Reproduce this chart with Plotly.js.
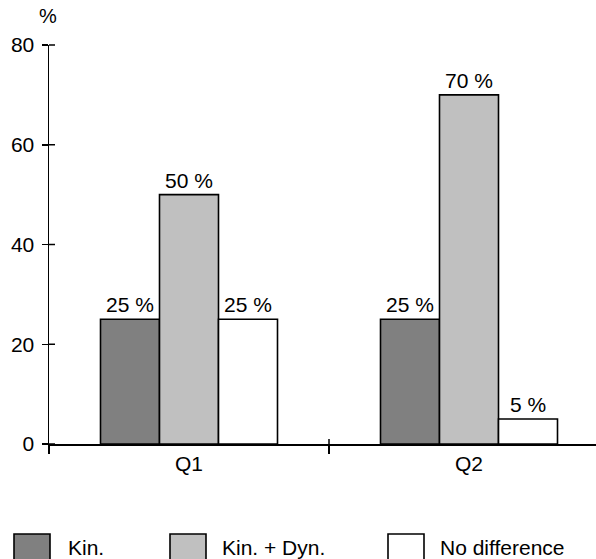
<!DOCTYPE html>
<html>
<head>
<meta charset="utf-8">
<script src="https://cdn.plot.ly/plotly-3.0.1.min.js"></script>
<style>html,body{margin:0;padding:0;background:#fff;}#chart{width:596px;height:559px;}</style>
</head>
<body>
<div id="chart"></div>
<script>
const categories = ['Q1', 'Q2'];
const seriesNames = ['Kin.', 'Kin. + Dyn.', 'No difference'];
const kin = [25, 25];
const kinDyn = [50, 70];
const noDiff = [25, 5];
const yTickVals = [0, 20, 40, 60, 80];
const yTickText = ['0', '20', '40', '60', '80'];
const seriesColors = ['#808080', '#c0c0c0', '#ffffff'];

const W = 596, H = 559;
const M = {l: 49, r: 0, t: 45, b: 115};
const PW = W - M.l - M.r, PH = H - M.t - M.b;
const FONT = 'Liberation Sans, Arial, sans-serif';
const FS = 21;
const PX_PER_CAT = 280;
const yRange = [0, 80];
const xRange = [-0.5, -0.5 + PW / PX_PER_CAT];

const seriesValues = [kin, kinDyn, noDiff];
const traces = seriesValues.map((vals, i) => ({
  type: 'bar',
  x: categories,
  y: vals,
  name: seriesNames[i],
  marker: {color: seriesColors[i], line: {color: '#000', width: 1.6}},
  texttemplate: '%{y} %',
  textposition: 'outside',
  textfont: {family: FONT, size: FS, color: '#000'},
  cliponaxis: false,
  hoverinfo: 'none'
}));

const px2x = px => (px - M.l) / PW;
const px2y = py => (H - M.b - py) / PH;

const shapes = [];
// inner half of the crossing ticks (axis decoration, paper coordinates)
yTickVals.forEach(v => {
  const py = (v - yRange[0]) / (yRange[1] - yRange[0]);
  shapes.push({type: 'line', xref: 'paper', yref: 'paper', x0: 0, x1: 6 / PW, y0: py, y1: py,
    line: {color: '#000', width: 1.5}});
});
categories.slice(0, -1).forEach((c, i) => {
  const bx = (i + 0.5 - xRange[0]) / (xRange[1] - xRange[0]);
  shapes.push({type: 'line', xref: 'paper', yref: 'paper', x0: bx, x1: bx, y0: 0, y1: 5 / PH,
    line: {color: '#000', width: 1.5}});
});

const annotations = [{
  text: '%', xref: 'paper', yref: 'paper', x: px2x(48), y: px2y(16),
  xanchor: 'center', yanchor: 'middle', showarrow: false,
  font: {family: FONT, size: FS - 1, color: '#000'}
}];
const legendSwatchX = [14, 170, 388];
const legendTextX = [66, 220, 438];
seriesNames.forEach((n, i) => {
  shapes.push({type: 'rect', xref: 'paper', yref: 'paper',
    x0: px2x(legendSwatchX[i]), x1: px2x(legendSwatchX[i] + 36),
    y0: px2y(534), y1: px2y(575),
    fillcolor: seriesColors[i], line: {color: '#000', width: 1.6}});
  annotations.push({text: n, xref: 'paper', yref: 'paper',
    x: px2x(legendTextX[i]), y: px2y(547), xanchor: 'left', yanchor: 'middle',
    showarrow: false, font: {family: FONT, size: FS, color: '#000'}});
});

const layout = {
  width: W, height: H,
  margin: M,
  paper_bgcolor: '#fff', plot_bgcolor: '#fff',
  showlegend: false,
  barmode: 'group',
  bargap: 1 - 177 / PX_PER_CAT,
  bargroupgap: 0,
  font: {family: FONT, size: FS, color: '#000'},
  xaxis: {
    type: 'category', range: xRange, tickson: 'boundaries',
    ticks: 'outside', ticklen: 8, tickwidth: 1.5, tickcolor: '#000',
    showline: true, linecolor: '#000', linewidth: 1.5,
    showgrid: false, zeroline: false,
    tickfont: {family: FONT, size: FS, color: '#000'}
  },
  yaxis: {
    range: yRange, tickvals: yTickVals, ticktext: yTickText,
    ticks: 'outside', ticklen: 6, tickwidth: 1.5, tickcolor: '#000',
    ticklabelstandoff: 3,
    showline: true, linecolor: '#000', linewidth: 1.5,
    showgrid: false, zeroline: false,
    tickfont: {family: FONT, size: FS, color: '#000'}
  },
  shapes: shapes,
  annotations: annotations
};

Plotly.newPlot('chart', traces, layout, {displayModeBar: false, staticPlot: true});
</script>
</body>
</html>
